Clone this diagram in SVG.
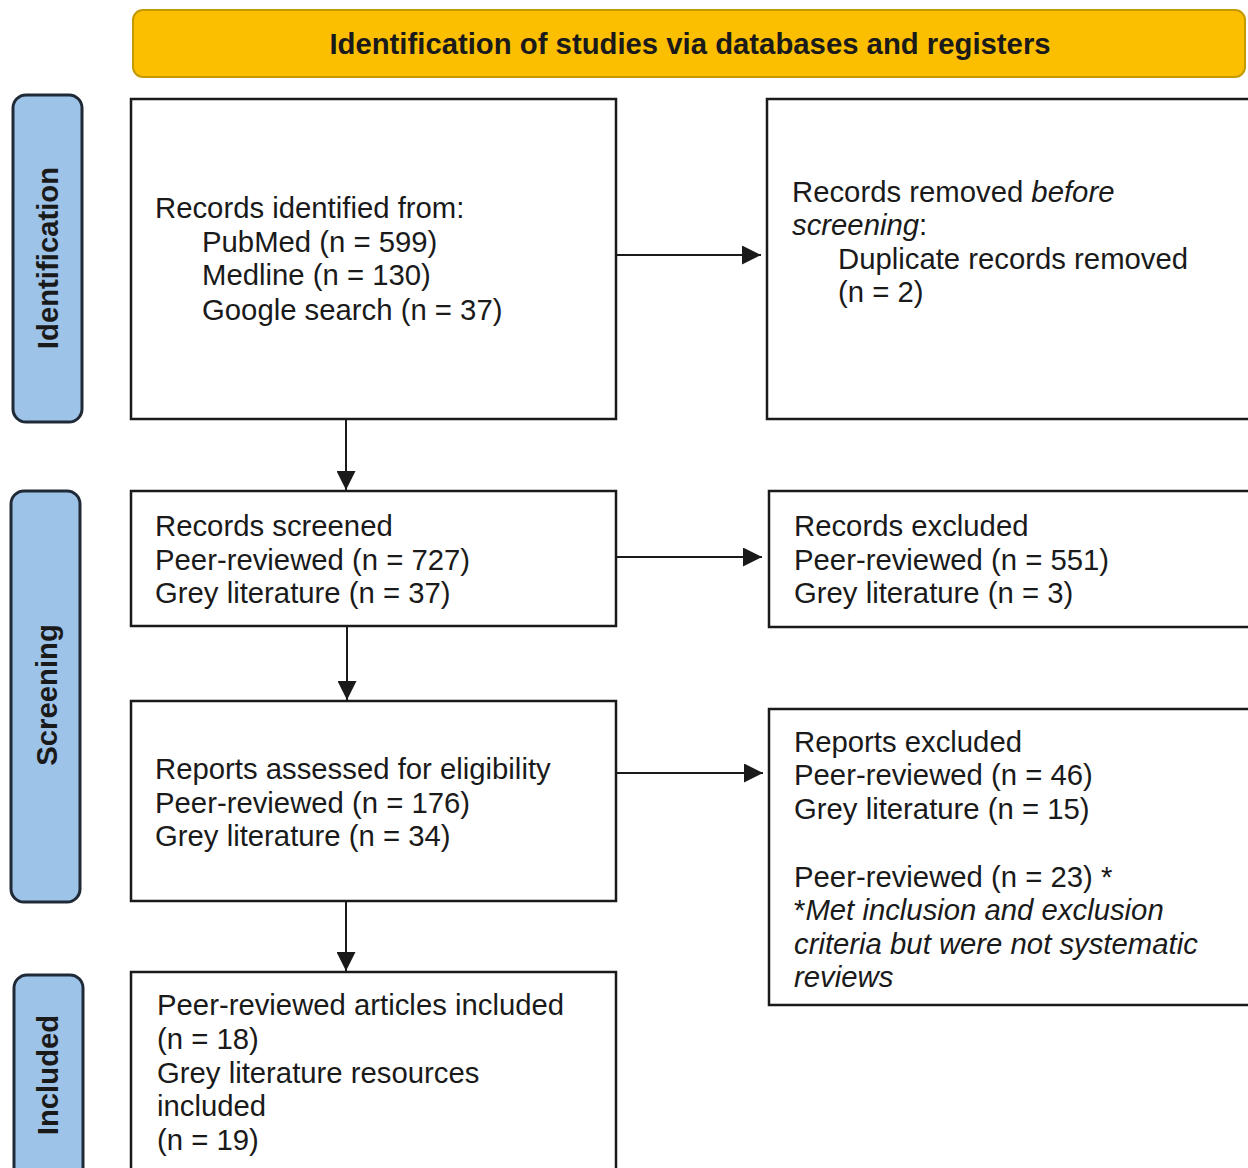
<svg xmlns="http://www.w3.org/2000/svg" width="1248" height="1168" viewBox="0 0 1248 1168">
<defs>
<style>
.box{fill:#fff;stroke:#1a1a1a;stroke-width:2.5}
.side{fill:#9ec3e8;stroke:#1f2a36;stroke-width:3}
.t{font-family:"Liberation Sans",Arial,Helvetica,sans-serif;font-size:29.3px;fill:#1a1a1a}
.b{font-family:"Liberation Sans",Arial,Helvetica,sans-serif;font-size:29.3px;font-weight:bold;fill:#1a1a1a}
.c{stroke:#1a1a1a;stroke-width:2;fill:none;marker-end:url(#ah)}
</style>
<marker id="ah" viewBox="0 0 10 10" refX="10" refY="5" markerUnits="userSpaceOnUse" markerWidth="20" markerHeight="19" orient="auto">
<path d="M0,0 L10,5 L0,10 Z" fill="#1a1a1a"/>
</marker>
</defs>
<rect width="1248" height="1168" fill="#fff"/>

<g id="banner">
<rect x="133" y="10" width="1112" height="67" rx="10" fill="#fcbf00" stroke="#c49a00" stroke-width="2"/>
<text class="b" x="690" y="54" text-anchor="middle">Identification of studies via databases and registers</text>
</g>

<g id="side-identification">
<rect class="side" x="13" y="95" width="69" height="327" rx="13"/>
<text class="b" transform="translate(58,258) rotate(-90)" text-anchor="middle">Identification</text>
</g>
<g id="side-screening">
<rect class="side" x="11" y="491" width="69" height="411" rx="13"/>
<text class="b" transform="translate(57,695) rotate(-90)" text-anchor="middle">Screening</text>
</g>
<g id="side-included">
<rect class="side" x="14" y="975" width="69" height="205" rx="13"/>
<text class="b" transform="translate(58,1075) rotate(-90)" text-anchor="middle">Included</text>
</g>

<g id="records-identified">
<rect class="box" x="131" y="99" width="485" height="320"/>
<text class="t" x="155" y="218">Records identified from:</text>
<text class="t" x="202" y="252">PubMed (n = 599)</text>
<text class="t" x="202" y="285">Medline (n = 130)</text>
<text class="t" x="202" y="320">Google search (n = 37)</text>
</g>

<g id="records-removed">
<rect class="box" x="767" y="99" width="490" height="320"/>
<text class="t" x="792" y="202">Records removed <tspan font-style="italic">before</tspan></text>
<text class="t" x="792" y="235"><tspan font-style="italic">screening</tspan>:</text>
<text class="t" x="838" y="269">Duplicate records removed</text>
<text class="t" x="838" y="302">(n = 2)</text>
</g>

<g id="records-screened">
<rect class="box" x="131" y="491" width="485" height="135"/>
<text class="t" x="155" y="536">Records screened</text>
<text class="t" x="155" y="570">Peer-reviewed (n = 727)</text>
<text class="t" x="155" y="603">Grey literature (n = 37)</text>
</g>

<g id="records-excluded">
<rect class="box" x="769" y="491" width="490" height="136"/>
<text class="t" x="794" y="536">Records excluded</text>
<text class="t" x="794" y="570">Peer-reviewed (n = 551)</text>
<text class="t" x="794" y="603">Grey literature (n = 3)</text>
</g>

<g id="reports-assessed">
<rect class="box" x="131" y="701" width="485" height="200"/>
<text class="t" x="155" y="779">Reports assessed for eligibility</text>
<text class="t" x="155" y="813">Peer-reviewed (n = 176)</text>
<text class="t" x="155" y="846">Grey literature (n = 34)</text>
</g>

<g id="reports-excluded">
<rect class="box" x="769" y="709" width="490" height="296"/>
<text class="t" x="794" y="752">Reports excluded</text>
<text class="t" x="794" y="785">Peer-reviewed (n = 46)</text>
<text class="t" x="794" y="819">Grey literature (n = 15)</text>
<text class="t" x="794" y="887">Peer-reviewed (n = 23) *</text>
<text class="t" x="794" y="920">*<tspan font-style="italic">Met inclusion and exclusion</tspan></text>
<text class="t" x="794" y="954" font-style="italic">criteria but were not systematic</text>
<text class="t" x="794" y="987" font-style="italic">reviews</text>
</g>

<g id="included">
<rect class="box" x="131" y="972" width="485" height="210"/>
<text class="t" x="157" y="1015">Peer-reviewed articles included</text>
<text class="t" x="157" y="1049">(n = 18)</text>
<text class="t" x="157" y="1083">Grey literature resources</text>
<text class="t" x="157" y="1116">included</text>
<text class="t" x="157" y="1150">(n = 19)</text>
</g>

<g id="connectors">
<line class="c" x1="617" y1="255" x2="761" y2="255"/>
<line class="c" x1="346" y1="420" x2="346" y2="490"/>
<line class="c" x1="617" y1="557" x2="762" y2="557"/>
<line class="c" x1="347" y1="627" x2="347" y2="700"/>
<line class="c" x1="617" y1="773" x2="763" y2="773"/>
<line class="c" x1="346" y1="902" x2="346" y2="971"/>
</g>
</svg>
